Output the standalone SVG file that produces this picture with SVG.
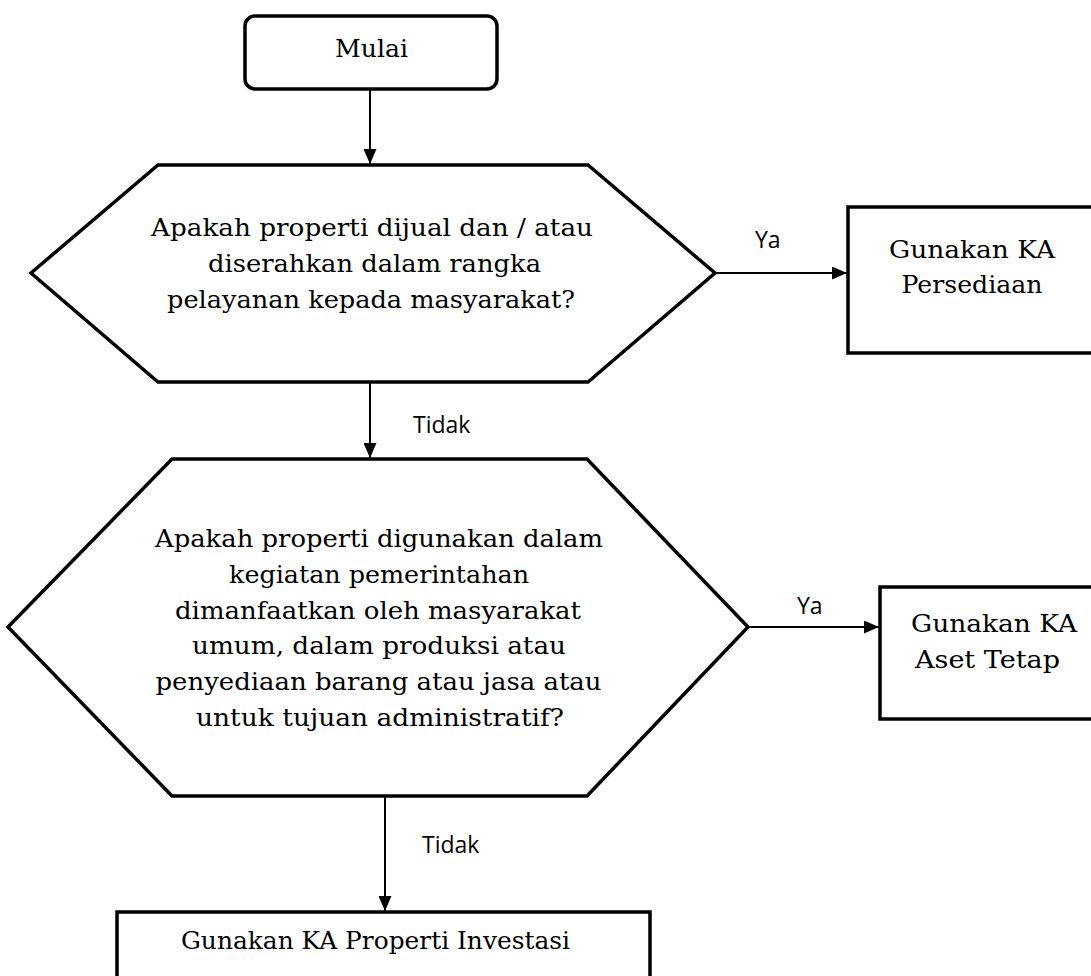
<svg xmlns="http://www.w3.org/2000/svg" width="1091" height="976" viewBox="0 0 1091 976">
<style>
.shape{fill:#fff;stroke:#000;stroke-width:3.5;stroke-linejoin:miter}
.conn{fill:none;stroke:#000;stroke-width:2}
.t{font-family:"DejaVu Serif","Liberation Serif",serif;font-size:24px;fill:#000;text-anchor:middle}
.lbl{font-family:"Open Sans","Noto Sans","Liberation Sans",sans-serif;font-size:23px;fill:#000}
</style>
<defs>
<marker id="arr" markerWidth="15" markerHeight="13" refX="15" refY="6.5" orient="auto" markerUnits="userSpaceOnUse">
<path d="M0,0 L15,6.5 L0,13 Z" fill="#000"/>
</marker>
</defs>
<g id="connectors">
<line class="conn" x1="370" y1="89" x2="370" y2="164" marker-end="url(#arr)"/>
<line class="conn" x1="715" y1="273" x2="847" y2="273" marker-end="url(#arr)"/>
<line class="conn" x1="370" y1="382" x2="370" y2="458" marker-end="url(#arr)"/>
<line class="conn" x1="748" y1="627" x2="879" y2="627" marker-end="url(#arr)"/>
<line class="conn" x1="385" y1="796" x2="385" y2="911" marker-end="url(#arr)"/>
<text class="lbl" x="755" y="248">Ya</text>
<text class="lbl" x="413" y="433">Tidak</text>
<text class="lbl" x="797" y="614">Ya</text>
<text class="lbl" x="422" y="853">Tidak</text>
</g>
<g id="mulai">
<rect class="shape" x="245" y="16" width="252" height="73" rx="10" ry="10"/>
<text class="t" x="371.5" y="57" textLength="73" lengthAdjust="spacingAndGlyphs">Mulai</text>
</g>
<g id="decision1">
<polygon class="shape" points="31,273 158,165 588,165 715,273 588,382 158,382"/>
<text class="t" x="372" y="236" textLength="442" lengthAdjust="spacingAndGlyphs">Apakah properti dijual dan / atau</text>
<text class="t" x="374.5" y="272" textLength="333" lengthAdjust="spacingAndGlyphs">diserahkan dalam rangka</text>
<text class="t" x="371" y="308" textLength="408" lengthAdjust="spacingAndGlyphs">pelayanan kepada masyarakat?</text>
</g>
<g id="persediaan">
<rect class="shape" x="848" y="207" width="260" height="146"/>
<text class="t" x="972" y="258" textLength="166" lengthAdjust="spacingAndGlyphs">Gunakan KA</text>
<text class="t" x="972" y="293" textLength="141" lengthAdjust="spacingAndGlyphs">Persediaan</text>
</g>
<g id="decision2">
<polygon class="shape" points="8,627 172,459 587,459 748,627 587,796 172,796"/>
<text class="t" x="379" y="547" textLength="448" lengthAdjust="spacingAndGlyphs">Apakah properti digunakan dalam</text>
<text class="t" x="379" y="583" textLength="300" lengthAdjust="spacingAndGlyphs">kegiatan pemerintahan</text>
<text class="t" x="378" y="619" textLength="406" lengthAdjust="spacingAndGlyphs">dimanfaatkan oleh masyarakat</text>
<text class="t" x="379" y="654" textLength="374" lengthAdjust="spacingAndGlyphs">umum, dalam produksi atau</text>
<text class="t" x="378.5" y="690" textLength="446" lengthAdjust="spacingAndGlyphs">penyediaan barang atau jasa atau</text>
<text class="t" x="380" y="726" textLength="368" lengthAdjust="spacingAndGlyphs">untuk tujuan administratif?</text>
</g>
<g id="asettetap">
<rect class="shape" x="880" y="587" width="230" height="132"/>
<text class="t" x="994" y="632" textLength="166" lengthAdjust="spacingAndGlyphs">Gunakan KA</text>
<text class="t" x="987.5" y="668" textLength="145" lengthAdjust="spacingAndGlyphs">Aset Tetap</text>
</g>
<g id="investasi">
<rect class="shape" x="117" y="912" width="533" height="100"/>
<text class="t" x="375.5" y="949" textLength="389" lengthAdjust="spacingAndGlyphs">Gunakan KA Properti Investasi</text>
</g>
</svg>
